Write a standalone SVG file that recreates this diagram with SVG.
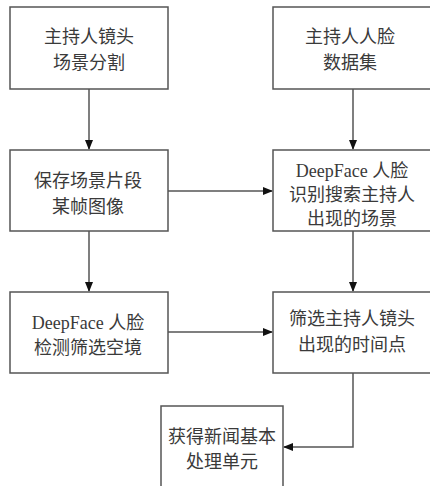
<svg xmlns="http://www.w3.org/2000/svg" width="430" height="486" viewBox="0 0 430 486">
<style>
.box{fill:#fff;stroke:#555;stroke-width:1.5}
.t{font-family:"Liberation Serif","Noto Sans CJK SC",serif;font-size:18px;fill:#3a3a3a;text-anchor:middle}
.c{fill:none;stroke:#555;stroke-width:1.5}
</style>
<defs>
<marker id="ah" markerWidth="10" markerHeight="10" refX="9" refY="5" orient="auto" markerUnits="userSpaceOnUse">
<path d="M0,1 L10,5 L0,9 Z" fill="#111"/>
</marker>
</defs>
<rect width="430" height="486" fill="#fff"/>
<g id="connectors">
<path class="c" d="M89,89 V149" marker-end="url(#ah)"/>
<path class="c" d="M353,89 V149" marker-end="url(#ah)"/>
<path class="c" d="M168,191 H272" marker-end="url(#ah)"/>
<path class="c" d="M89,231 V291" marker-end="url(#ah)"/>
<path class="c" d="M353,231 V291" marker-end="url(#ah)"/>
<path class="c" d="M168,332 H272" marker-end="url(#ah)"/>
<path class="c" d="M353,373 V447 H284" marker-end="url(#ah)"/>
</g>
<g id="n1"><rect class="box" x="10" y="7" width="158" height="82"/>
<text class="t" x="89" y="43">主持人镜头</text><text class="t" x="89" y="69">场景分割</text></g>
<g id="n2"><rect class="box" x="273" y="7" width="160" height="82"/>
<text class="t" x="350" y="43">主持人人脸</text><text class="t" x="350" y="69">数据集</text></g>
<g id="n3"><rect class="box" x="10" y="150" width="158" height="81"/>
<text class="t" x="88" y="187">保存场景片段</text><text class="t" x="88" y="213">某帧图像</text></g>
<g id="n4"><rect class="box" x="273" y="150" width="160" height="81"/>
<text class="t" x="352" y="177">DeepFace 人脸</text><text class="t" x="352" y="201">识别搜索主持人</text><text class="t" x="352" y="225">出现的场景</text></g>
<g id="n5"><rect class="box" x="10" y="292" width="158" height="81"/>
<text class="t" x="88" y="329">DeepFace 人脸</text><text class="t" x="88" y="354">检测筛选空境</text></g>
<g id="n6"><rect class="box" x="273" y="292" width="160" height="81"/>
<text class="t" x="352" y="325">筛选主持人镜头</text><text class="t" x="352" y="351">出现的时间点</text></g>
<g id="n7"><rect class="box" x="161" y="406" width="122" height="85"/>
<text class="t" x="222" y="443">获得新闻基本</text><text class="t" x="222" y="468">处理单元</text></g>
</svg>
